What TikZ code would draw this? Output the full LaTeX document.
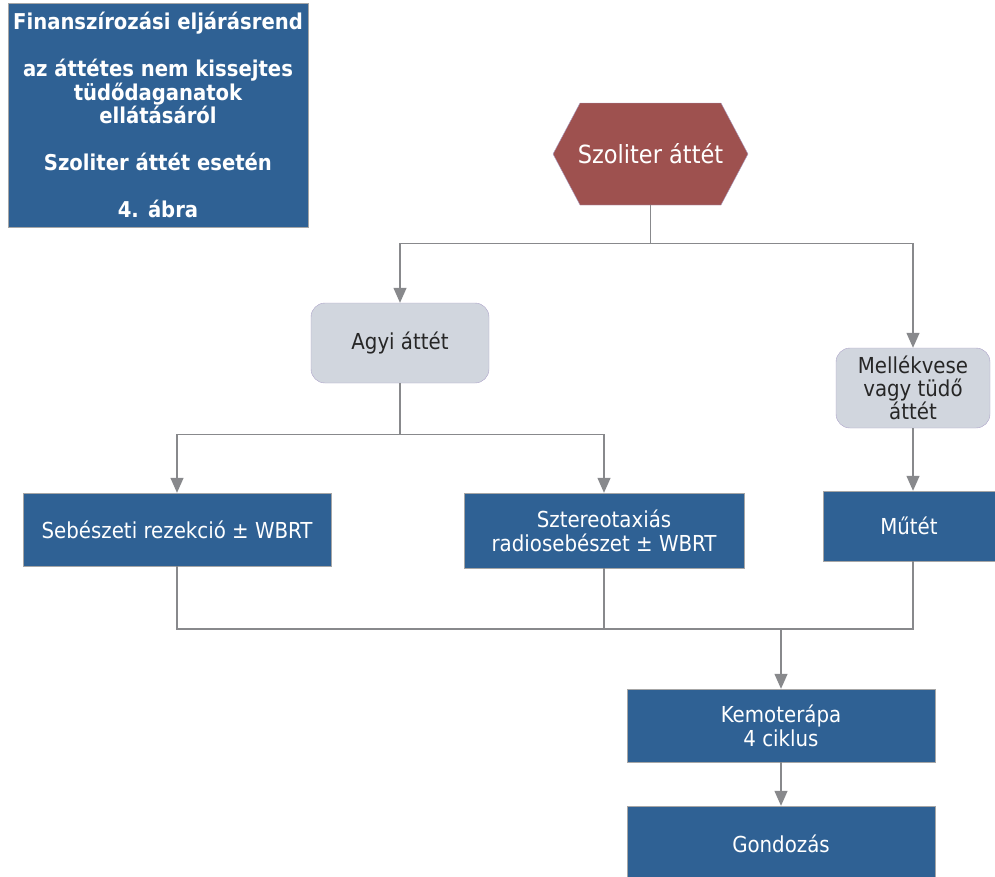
\documentclass[tikz,border=0pt]{standalone}
\usepackage{fontspec}
\setmainfont{DejaVu Sans Condensed}
\usepackage{tikz}
\usepackage{xcolor}
\usetikzlibrary{arrows.meta,calc}

\definecolor{boxblue}{RGB}{47,97,148}
\definecolor{hexred}{RGB}{158,81,79}
\definecolor{softgray}{RGB}{209,214,222}
\definecolor{lavline}{RGB}{172,162,200}
\definecolor{conn}{RGB}{136,137,140}

\begin{document}
\begin{tikzpicture}[x=1pt,y=-1pt,
  bluebox/.style={draw=gray!70,fill=boxblue,text=white,align=center,
    inner sep=0pt,font=\fontsize{22}{24}\selectfont},
  graybox/.style={draw=lavline,fill=softgray,text=black!85,align=center,
    rounded corners=14pt,inner sep=0pt,font=\fontsize{22}{23}\selectfont},
  line/.style={conn,line width=1.3pt},
  arr/.style={line,-{Triangle[width=13pt,length=15pt]}}]
\useasboundingbox (0,0) rectangle (995,876);
\clip (0,0) rectangle (995,876);

% title block
\node[bluebox,minimum width=300pt,minimum height=224pt,
  font=\fontsize{21.8}{23.5}\selectfont\bfseries] (title) at (158,115)
  {Finanszírozási eljárásrend\\[23.5pt] az áttétes nem kissejtes\\
   tüdődaganatok\\ ellátásáról\\[23.5pt] Szoliter áttét esetén\\[23.5pt] 4. ábra};

% hexagon
\fill[hexred,draw=lavline] (553,154) -- (580,103) -- (721,103) -- (748,154)
  -- (721,205) -- (580,205) -- cycle;
\node[text=white,minimum width=140pt,minimum height=102pt,inner sep=0pt,
  font=\fontsize{25}{27}\selectfont] (szol) at (650.5,154) {Szoliter áttét};

% gray boxes
\node[graybox,minimum width=178pt,minimum height=80pt] (agyi) at (400,343) {Agyi áttét};
\node[graybox,minimum width=154pt,minimum height=80pt] (mell) at (913,388)
  {Mellékvese\\ vagy tüdő\\ áttét};

% treatment boxes
\node[bluebox,minimum width=308pt,minimum height=73pt] (seb) at (177,529.5)
  {Sebészeti rezekció ± WBRT};
\node[bluebox,minimum width=280pt,minimum height=75pt] (szt) at (604,530.5)
  {Sztereotaxiás\\ radiosebészet ± WBRT};
\node[bluebox,minimum width=172pt,minimum height=70pt] (mutet) at (909,526) {Műtét};
\node[bluebox,minimum width=308pt,minimum height=73pt] (kemo) at (781,725.5)
  {Kemoterápa\\ 4 ciklus};
\node[bluebox,minimum width=308pt,minimum height=76pt] (gond) at (781,844) {Gondozás};

% connectors
\draw[line] (szol.south) -- ++(0,38) coordinate (s1);
\draw[arr] (s1) -| (agyi.north);
\draw[arr] (s1) -| (mell.north);
\draw[line] (agyi.south) -- ++(0,51) coordinate (a1);
\draw[arr] (a1) -| (seb.north);
\draw[arr] (a1) -| (szt.north);
\draw[arr] (mell.south) -- (mell.south |- mutet.north);

\coordinate (j) at (781,629);
\draw[line] (seb.south) |- (mell.south |- j) -- (mell.south |- mutet.south);
\draw[line] (szt.south) -- (szt.south |- j);
\draw[arr] (j) -- (kemo.north);
\draw[arr] (kemo) -- (gond);
\end{tikzpicture}
\end{document}
